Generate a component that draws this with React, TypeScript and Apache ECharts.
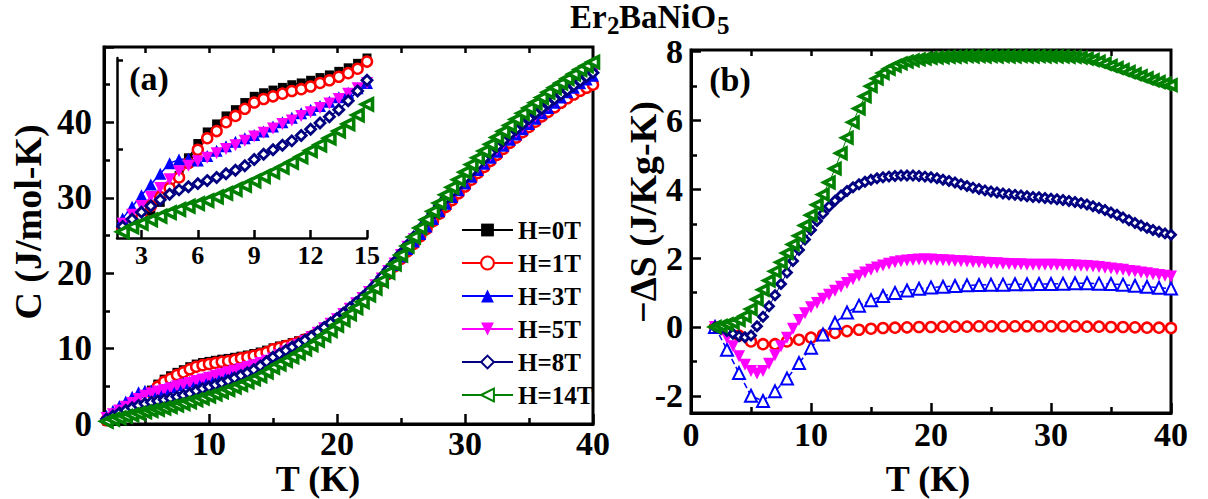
import React, { useEffect, useRef } from "react";
import * as echarts from "echarts";

// ---------- data ----------
const TEMPS = [
  2, 2.5, 3, 3.5, 4, 4.5, 5, 5.5, 6, 6.5, 7, 7.5, 8, 8.5, 9, 9.5, 10, 10.5, 11, 11.5,
  12, 12.5, 13, 13.5, 14, 14.5, 15, 15.5, 16, 16.5, 17, 17.5, 18, 18.5, 19, 19.5,
  20, 20.5, 21, 21.5, 22, 22.5, 23, 23.5, 24, 24.5, 25, 25.5, 26, 26.5, 27, 27.5,
  28, 28.5, 29, 29.5, 30, 30.5, 31, 31.5, 32, 32.5, 33, 33.5, 34, 34.5, 35, 35.5,
  36, 36.5, 37, 37.5, 38, 38.5, 39, 39.5, 40,
];
const TEMPS_COARSE = [
  2, 3, 4, 5, 6, 7, 8, 9, 10, 11, 12, 13, 14, 15, 16, 17, 18, 19, 20, 21, 22, 23, 24,
  25, 26, 27, 28, 29, 30, 31, 32, 33, 34, 35, 36, 37, 38, 39, 40,
];

// Panel (a): heat capacity C (J/mol-K)
const C_0T = [
  0.5, 0.75, 1.1, 1.5, 2.0, 2.65, 3.5, 4.5, 5.3, 5.95, 6.4, 6.85, 7.2, 7.6, 7.95, 8.15, 8.3, 8.45, 8.6, 8.7,
  8.85, 9.0, 9.15, 9.35, 9.55, 9.8, 10.1,
  10.35, 10.55, 10.8, 11.05, 11.35, 11.7, 12.2, 12.7, 13.25, 13.85,
  14.5, 15.2, 15.9, 16.6, 17.4, 18.2, 19.1, 20.0, 21.0, 22.0,
  23.0, 24.0, 25.0, 26.0, 27.0, 28.0, 28.9, 29.8, 30.7, 31.6,
  32.5, 33.4, 34.2, 35.0, 35.8, 36.6, 37.4, 38.1, 38.8, 39.5,
  40.2, 40.9, 41.5, 42.1, 42.7, 43.3, 43.9, 44.4, 44.8, 45.2,
];
const C_1T = [
  0.5, 0.8, 1.2, 1.8, 2.3, 2.8, 3.4, 4.2, 4.95, 5.6, 6.0, 6.5, 6.85, 7.25, 7.6, 7.8, 7.95, 8.1, 8.25, 8.35,
  8.5, 8.7, 8.85, 9.05, 9.25, 9.5, 9.9,
  10.1, 10.35, 10.6, 10.85, 11.2, 11.6, 12.1, 12.65, 13.2, 13.8,
  14.4, 15.1, 15.8, 16.5, 17.3, 18.1, 19.0, 19.9, 20.9, 21.9,
  22.9, 23.9, 24.9, 25.9, 26.9, 27.9, 28.8, 29.7, 30.6, 31.5,
  32.4, 33.3, 34.1, 34.9, 35.7, 36.5, 37.3, 38.0, 38.7, 39.4,
  40.1, 40.8, 41.4, 42.0, 42.6, 43.2, 43.7, 44.2, 44.6, 45.0,
];
const C_3T = [
  1.1, 1.75, 2.4, 3.0, 3.6, 4.2, 4.4, 4.45, 4.35, 4.6, 4.9, 5.15, 5.4, 5.6, 5.78, 5.98, 6.25, 6.5, 6.75, 7.0,
  7.2, 7.4, 7.65, 7.9, 8.15, 8.4, 8.7,
  9.1, 9.55, 10.0, 10.45, 10.95, 11.45, 12.0, 12.6, 13.2, 13.8,
  14.5, 15.2, 15.9, 16.6, 17.4, 18.3, 19.2, 20.1, 21.1, 22.2,
  23.2, 24.2, 25.2, 26.2, 27.2, 28.2, 29.2, 30.1, 31.0, 31.9,
  32.8, 33.7, 34.5, 35.3, 36.1, 36.9, 37.7, 38.4, 39.1, 39.8,
  40.5, 41.2, 41.9, 42.6, 43.3, 44.0, 44.6, 45.2, 45.7, 46.2,
];
const C_5T = [
  0.8, 1.3, 1.8, 2.3, 2.8, 3.3, 3.75, 4.05, 4.3, 4.5, 4.75, 5.0, 5.2, 5.45, 5.7, 5.9, 6.15, 6.4, 6.6, 6.85,
  7.05, 7.3, 7.55, 7.8, 8.1, 8.4, 8.7,
  9.15, 9.6, 10.05, 10.5, 11.0, 11.5, 12.1, 12.7, 13.3, 13.9,
  14.6, 15.3, 16.0, 16.7, 17.5, 18.4, 19.3, 20.3, 21.3, 22.4,
  23.5, 24.5, 25.5, 26.5, 27.5, 28.5, 29.5, 30.4, 31.3, 32.2,
  33.1, 34.0, 34.8, 35.6, 36.4, 37.2, 38.0, 38.7, 39.4, 40.1,
  40.8, 41.5, 42.2, 42.9, 43.6, 44.3, 44.9, 45.5, 46.0, 46.5,
];
const C_8T = [
  0.65, 1.05, 1.45, 1.8, 2.15, 2.45, 2.7, 2.88, 3.05, 3.22, 3.4, 3.6, 3.8, 4.05, 4.4, 4.7, 4.95, 5.2, 5.45, 5.75,
  6.1, 6.45, 6.8, 7.2, 7.7, 8.25, 8.85,
  9.3, 9.75, 10.2, 10.6, 11.1, 11.6, 12.2, 12.8, 13.4, 14.0,
  14.7, 15.4, 16.1, 16.8, 17.6, 18.5, 19.5, 20.5, 21.5, 22.6,
  23.7, 24.8, 25.9, 26.9, 27.9, 28.9, 29.9, 30.8, 31.7, 32.6,
  33.5, 34.4, 35.2, 36.0, 36.8, 37.6, 38.4, 39.1, 39.8, 40.5,
  41.2, 41.8, 42.5, 43.1, 43.7, 44.3, 44.9, 45.5, 46.1, 46.6,
];
const C_14T = [
  0.35, 0.62, 0.82, 1.02, 1.22, 1.42, 1.6, 1.78, 1.93, 2.1, 2.3, 2.5, 2.72, 2.95, 3.2, 3.45, 3.7, 3.97, 4.25, 4.55,
  4.9, 5.22, 5.6, 6.0, 6.4, 6.9, 7.5,
  7.95, 8.4, 8.9, 9.4, 9.95, 10.5, 11.1, 11.75, 12.4, 13.1,
  13.8, 14.6, 15.4, 16.2, 17.1, 18.0, 19.0, 20.1, 21.2, 22.4,
  23.6, 24.8, 26.0, 27.1, 28.2, 29.3, 30.4, 31.4, 32.4, 33.4,
  34.4, 35.3, 36.2, 37.1, 38.0, 38.8, 39.6, 40.4, 41.2, 41.9,
  42.6, 43.3, 44.0, 44.6, 45.2, 45.8, 46.4, 47.0, 47.5, 48.0,
];

// Panel (b): -ΔS (J/Kg-K)
const DS_1T = [
  0, -0.1, -0.25, -0.42, -0.5, -0.5, -0.42, -0.37, -0.31, -0.23, -0.17, -0.12, -0.08, -0.05,
  -0.03, -0.02, -0.01, 0, 0, 0.01, 0.01, 0.01, 0.02, 0.02, 0.02, 0.02, 0.02, 0.02, 0.02, 0.02,
  0.02, 0.01, 0.01, 0, 0, -0.01, -0.02, -0.02, -0.03,
];
const DS_3T = [
  0, -0.66, -1.34, -2.0, -2.15, -1.87, -1.5, -1.05, -0.6, -0.22, 0.12, 0.42, 0.62, 0.78, 0.9,
  0.99, 1.06, 1.11, 1.15, 1.17, 1.19, 1.21, 1.22, 1.23, 1.23, 1.24, 1.24, 1.25, 1.25, 1.26,
  1.27, 1.27, 1.26, 1.25, 1.23, 1.2, 1.17, 1.14, 1.12,
];
const DS_5T = [
  0, -0.1, -0.32, -0.56, -0.85, -1.1, -1.28, -1.35, -1.28, -1.07, -0.82, -0.56, -0.31, -0.05,
  0.2, 0.4, 0.57, 0.7, 0.82, 0.94, 1.05, 1.17, 1.28, 1.39, 1.49, 1.58, 1.66,
  1.73, 1.79, 1.84, 1.88, 1.91, 1.93, 1.95, 1.96, 1.96, 1.96,
  1.95, 1.94, 1.93, 1.92, 1.91, 1.9, 1.89, 1.88, 1.87, 1.86,
  1.85, 1.84, 1.83, 1.82, 1.82, 1.81, 1.81, 1.81, 1.81, 1.81,
  1.81, 1.8, 1.8, 1.79, 1.78, 1.77, 1.76, 1.74, 1.72, 1.7,
  1.68, 1.66, 1.63, 1.61, 1.58, 1.56, 1.53, 1.51, 1.49, 1.47,
];
const DS_8T = [
  0, -0.05, -0.12, -0.2, -0.27, -0.3, -0.25, 0.02, 0.3, 0.6, 0.92, 1.25, 1.58, 1.92,
  2.24, 2.54, 2.82, 3.08, 3.3, 3.5, 3.67, 3.82, 3.95, 4.06, 4.15, 4.22, 4.28,
  4.32, 4.35, 4.37, 4.39, 4.4, 4.4, 4.4, 4.39, 4.37, 4.35,
  4.32, 4.28, 4.24, 4.2, 4.15, 4.1, 4.05, 4.01, 3.97, 3.94,
  3.91, 3.88, 3.86, 3.84, 3.82, 3.8, 3.78, 3.77, 3.75, 3.73,
  3.71, 3.69, 3.66, 3.63, 3.6, 3.56, 3.51, 3.46, 3.4, 3.33,
  3.26, 3.18, 3.1, 3.02, 2.95, 2.88, 2.82, 2.77, 2.72, 2.68,
];
const DS_14T = [
  0, 0.03, 0.08, 0.13, 0.2, 0.32, 0.52, 0.8, 1.08, 1.35, 1.62, 1.88, 2.15, 2.4,
  2.65, 2.95, 3.25, 3.55, 3.85, 4.2, 4.6, 5.05, 5.5, 5.95, 6.35, 6.7, 7.0,
  7.22, 7.38, 7.5, 7.59, 7.66, 7.71, 7.75, 7.78, 7.8, 7.82,
  7.83, 7.84, 7.85, 7.85, 7.86, 7.87, 7.86, 7.87, 7.86, 7.87,
  7.86, 7.87, 7.86, 7.86, 7.87, 7.86, 7.86, 7.87, 7.86, 7.86,
  7.86, 7.86, 7.85, 7.85, 7.83, 7.8, 7.76, 7.71, 7.65, 7.59,
  7.53, 7.47, 7.41, 7.35, 7.29, 7.23, 7.17, 7.12, 7.07, 7.03,
];

const LEGEND_NAMES = ["H=0T", "H=1T", "H=3T", "H=5T", "H=8T", "H=14T"];
const X_TICKS_A = [10, 20, 30, 40];
const X_MINOR_A = [5, 15, 25, 35];
const Y_TICKS_B = [-2, 0, 2, 4, 6, 8];
const Y_MINOR_B = [-1, 1, 3, 5, 7];
const INSET_X_TICKS = [3, 6, 9, 12, 15];
const TOP_TICKS = [5, 10, 15, 20, 25, 30, 35];

// ---------- styles ----------
const SERIF = "'Liberation Serif', 'Times New Roman', serif";
const BLACK = "#000000";
const RED = "#ff0000";
const BLUE = "#0000ff";
const MAGENTA = "#ff00ff";
const NAVY = "#000080";
const GREEN = "#008000";

type Sty = {
  color: string;
  symbol: string;
  size: number;
  rotate?: number;
  hollow?: boolean;
  border?: number;
};
const STYLES: Record<string, Sty> = {
  "H=0T": { color: BLACK, symbol: "rect", size: 9 },
  "H=1T": { color: RED, symbol: "circle", size: 10, hollow: true, border: 2.5 },
  "H=3T": { color: BLUE, symbol: "triangle", size: 12 },
  "H=5T": { color: MAGENTA, symbol: "triangle", size: 12, rotate: 180 },
  "H=8T": { color: NAVY, symbol: "diamond", size: 10, hollow: true, border: 2.8 },
  "H=14T": { color: GREEN, symbol: "triangle", size: 11, rotate: 90, hollow: true, border: 3.6 },
};

function pairs(xs: number[], ys: number[], maxX = Infinity) {
  const out: number[][] = [];
  for (let i = 0; i < xs.length && i < ys.length; i++) {
    if (xs[i] <= maxX) out.push([xs[i], ys[i]]);
  }
  return out;
}

function makeSeries(
  name: string,
  data: number[][],
  xi: number,
  yi: number,
  opts: { dashed?: boolean; lineWidth?: number; hollowB?: boolean; size?: number; border?: number } = {}
) {
  const s = STYLES[name];
  const hollow = opts.hollowB !== undefined ? opts.hollowB : s.hollow;
  return {
    type: "line",
    name,
    xAxisIndex: xi,
    yAxisIndex: yi,
    data,
    symbol: s.symbol,
    symbolSize: opts.size ?? s.size,
    symbolRotate: s.rotate || 0,
    showAllSymbol: true,
    clip: true,
    lineStyle: {
      color: s.color,
      width: opts.lineWidth ?? 1.5,
      type: opts.dashed ? "dashed" : "solid",
    },
    itemStyle: hollow
      ? { color: "#ffffff", borderColor: s.color, borderWidth: opts.border ?? s.border ?? 2.5 }
      : { color: s.color, borderColor: s.color, borderWidth: 0 },
    emphasis: { disabled: true },
  };
}

const tickStyle = { color: "#000", width: 2.5 };
const axisLineStyle = { color: "#000", width: 3 };
const mainLabel = {
  fontSize: 34,
  fontWeight: "bold",
  fontFamily: SERIF,
  color: "#000",
};

function buildOption() {
  const xAxis: any[] = [
    // 0: panel a bottom, major
    {
      gridIndex: 0, type: "value", min: 1.8, max: 40, position: "bottom",
      axisLine: { show: true, onZero: false, lineStyle: axisLineStyle },
      axisTick: { show: true, inside: true, length: 10, lineStyle: tickStyle, customValues: X_TICKS_A },
      axisLabel: { ...mainLabel, margin: 2, customValues: X_TICKS_A },
      splitLine: { show: false },
    },
    // 1: panel a bottom, minor
    {
      gridIndex: 0, type: "value", min: 1.8, max: 40, position: "bottom",
      axisLine: { show: false, onZero: false },
      axisTick: { show: true, inside: true, length: 6, lineStyle: tickStyle, customValues: X_MINOR_A },
      axisLabel: { show: false },
      splitLine: { show: false },
    },
    // 2: panel a top ticks
    {
      gridIndex: 0, type: "value", min: 1.8, max: 40, position: "top",
      axisLine: { show: false, onZero: false },
      axisTick: { show: true, inside: true, length: 6, lineStyle: tickStyle, customValues: TOP_TICKS },
      axisLabel: { show: false },
      splitLine: { show: false },
    },
    // 3: inset x
    {
      gridIndex: 1, type: "value", min: 1.7, max: 15, position: "bottom",
      axisLine: { show: true, onZero: false, lineStyle: { color: "#000", width: 2.5 } },
      axisTick: { show: true, inside: true, length: 8, lineStyle: tickStyle, customValues: INSET_X_TICKS },
      axisLabel: { fontSize: 26, fontWeight: "bold", fontFamily: SERIF, color: "#000", margin: 4, customValues: INSET_X_TICKS },
      splitLine: { show: false },
    },
    // 4: panel b bottom
    {
      gridIndex: 2, type: "value", min: 0, max: 40, interval: 10, position: "bottom",
      axisLine: { show: true, onZero: false, lineStyle: axisLineStyle },
      axisTick: { show: true, inside: true, length: 10, lineStyle: tickStyle },
      minorTick: { show: true, splitNumber: 2, length: 6, lineStyle: tickStyle },
      axisLabel: { ...mainLabel, margin: 4 },
      splitLine: { show: false },
      minorSplitLine: { show: false },
    },
    // 5: panel b top ticks
    {
      gridIndex: 2, type: "value", min: 0, max: 40, position: "top",
      axisLine: { show: false, onZero: false },
      axisTick: { show: true, inside: true, length: 6, lineStyle: tickStyle, customValues: TOP_TICKS },
      axisLabel: { show: false },
      splitLine: { show: false },
    },
  ];

  const yAxis: any[] = [
    // 0: panel a left
    {
      gridIndex: 0, type: "value", min: 0, max: 50, interval: 10, position: "left",
      axisLine: { show: true, onZero: false, lineStyle: axisLineStyle },
      axisTick: { show: true, inside: true, length: 10, lineStyle: tickStyle },
      minorTick: { show: true, splitNumber: 2, length: 6, lineStyle: tickStyle },
      axisLabel: { ...mainLabel, fontSize: 35, margin: 12, showMaxLabel: false },
      splitLine: { show: false },
      minorSplitLine: { show: false },
    },
    // 1: inset y
    {
      gridIndex: 1, type: "value", min: 0, max: 10.1, position: "left",
      axisLine: { show: true, onZero: false, lineStyle: { color: "#000", width: 2.5 } },
      axisTick: { show: true, inside: true, length: 6, lineStyle: tickStyle, customValues: [5, 10] },
      axisLabel: { show: false },
      splitLine: { show: false },
    },
    // 2: panel b left, major
    {
      gridIndex: 2, type: "value", min: -2.5, max: 8.05, position: "left",
      axisLine: { show: true, onZero: false, lineStyle: axisLineStyle },
      axisTick: { show: true, inside: true, length: 10, lineStyle: tickStyle, customValues: Y_TICKS_B },
      axisLabel: { ...mainLabel, fontSize: 34, margin: 8, customValues: Y_TICKS_B },
      splitLine: { show: false },
    },
    // 3: panel b left, minor
    {
      gridIndex: 2, type: "value", min: -2.5, max: 8.05, position: "left",
      axisLine: { show: false, onZero: false },
      axisTick: { show: true, inside: true, length: 6, lineStyle: tickStyle, customValues: Y_MINOR_B },
      axisLabel: { show: false },
      splitLine: { show: false },
    },
  ];

  const mainData: Record<string, number[]> = {
    "H=0T": C_0T, "H=1T": C_1T, "H=3T": C_3T, "H=5T": C_5T, "H=8T": C_8T, "H=14T": C_14T,
  };

  const series: any[] = [];
  LEGEND_NAMES.forEach((n) => series.push(makeSeries(n, pairs(TEMPS, mainData[n]), 0, 0)));
  LEGEND_NAMES.forEach((n) => series.push(makeSeries(n, pairs(TEMPS, mainData[n], 15), 3, 1)));

  series.push(makeSeries("H=1T", pairs(TEMPS_COARSE, DS_1T), 4, 2, { lineWidth: 1 }));
  series.push(makeSeries("H=3T", pairs(TEMPS_COARSE, DS_3T), 4, 2, { dashed: true, lineWidth: 1.5, hollowB: true, border: 2 }));
  series.push(makeSeries("H=5T", pairs(TEMPS, DS_5T), 4, 2, { lineWidth: 1 }));
  series.push(makeSeries("H=8T", pairs(TEMPS, DS_8T), 4, 2, { lineWidth: 1, size: 9 }));
  series.push(makeSeries("H=14T", pairs(TEMPS, DS_14T), 4, 2, { lineWidth: 1, size: 10 }));

  const bigText = (text: string, x: number, y: number, size: number, rotation = 0) => ({
    type: "text",
    x,
    y,
    rotation,
    silent: true,
    style: {
      text,
      fontSize: size,
      fontWeight: "bold",
      fontFamily: SERIF,
      fill: "#000",
      textAlign: "center",
      textVerticalAlign: "middle",
    },
  });

  // title pieces: main text and subscripts placed side by side
  const titlePiece = (text: string, x: number, y: number, size: number) => ({
    type: "text",
    x,
    y,
    silent: true,
    style: {
      text,
      fontSize: size,
      fontWeight: "bold",
      fontFamily: SERIF,
      fill: "#000",
      textAlign: "left",
      textVerticalAlign: "top",
    },
  });

  return {
    animation: false,
    backgroundColor: "#ffffff",
    grid: [
      { left: 104, top: 47, width: 489, height: 377, show: true, borderColor: "#000", borderWidth: 3, containLabel: false },
      { left: 117, top: 58, width: 250, height: 180, show: false, containLabel: false },
      { left: 691, top: 50, width: 480, height: 363, show: true, borderColor: "#000", borderWidth: 3, containLabel: false },
    ],
    xAxis,
    yAxis,
    legend: {
      data: LEGEND_NAMES,
      orient: "vertical",
      left: 456,
      top: 212,
      itemWidth: 51,
      itemHeight: 16,
      itemGap: 7,
      selectedMode: false,
      textStyle: { fontSize: 25, fontWeight: "bold", fontFamily: SERIF, color: "#000", lineHeight: 26 },
    },
    graphic: [
      titlePiece("Er", 570, 0, 33),
      titlePiece("2", 607, 13, 25),
      titlePiece("BaNiO", 619, 0, 33),
      titlePiece("5", 717, 13, 25),
      bigText("(a)", 149, 78, 34),
      bigText("(b)", 730, 79, 34),
      bigText("C (J/mol-K)", 28, 222, 38, Math.PI / 2),
      bigText("\u2212\u0394S (J/Kg-K)", 643, 212, 38, Math.PI / 2),
      bigText("T (K)", 318, 479, 36),
      bigText("T (K)", 928, 479, 36),
    ],
    series,
  };
}

export default function App() {
  const ref = useRef<HTMLDivElement>(null);
  useEffect(() => {
    if (!ref.current) return;
    const chart = echarts.init(ref.current, null, { renderer: "svg" });
    chart.setOption(buildOption() as any);
    return () => chart.dispose();
  }, []);
  return (
    <div
      ref={ref}
      style={{ position: "absolute", left: 0, top: 0, width: 1208, height: 499, background: "#fff" }}
    />
  );
}
